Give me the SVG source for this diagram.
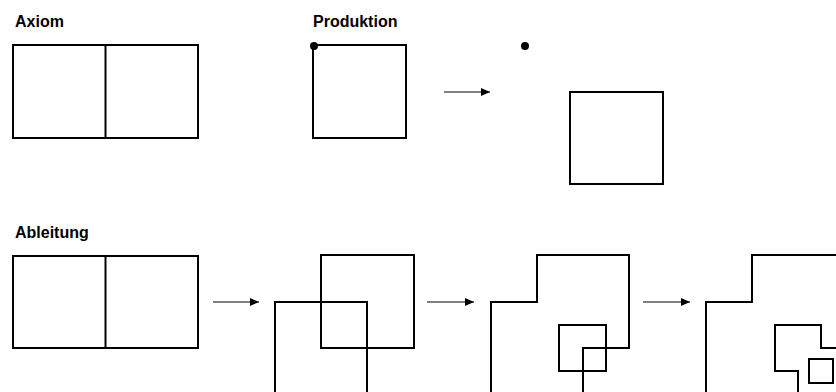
<svg xmlns="http://www.w3.org/2000/svg" width="836" height="392" viewBox="0 0 836 392">
  <style>
    .lbl { font-family: "Liberation Sans", Arial, sans-serif; font-weight: bold; font-size: 16px; fill: #000; }
    .shape { fill: none; stroke: #000; stroke-width: 2; stroke-linejoin: miter; }
    .conn { fill: none; stroke: #000; stroke-width: 1.2; }
    .dot { fill: #000; }
  </style>
  <defs>
    <marker id="ah" markerUnits="userSpaceOnUse" markerWidth="9" markerHeight="8" refX="9" refY="4" orient="auto">
      <path d="M0,0 L9,4 L0,8 Z" fill="#000"/>
    </marker>
  </defs>
  <rect width="836" height="392" fill="#fff"/>

  <g id="labels">
    <text class="lbl" x="15" y="27">Axiom</text>
    <text class="lbl" x="313" y="27">Produktion</text>
    <text class="lbl" x="15" y="238">Ableitung</text>
  </g>

  <g id="axiom">
    <rect class="shape" x="13" y="45" width="185" height="93"/>
    <line class="shape" x1="105.5" y1="45" x2="105.5" y2="138"/>
  </g>

  <g id="production-left">
    <rect class="shape" x="313" y="45" width="93" height="93"/>
    <circle class="dot" cx="314" cy="46" r="4"/>
  </g>

  <g id="production-right">
    <circle class="dot" cx="525" cy="46" r="4"/>
    <rect class="shape" x="570" y="92" width="93" height="92"/>
  </g>

  <g id="derivation-0">
    <rect class="shape" x="13" y="256" width="185" height="92"/>
    <line class="shape" x1="105.5" y1="256" x2="105.5" y2="348"/>
  </g>

  <g id="derivation-1">
    <rect class="shape" x="321" y="255" width="93" height="93"/>
    <rect class="shape" x="275" y="302" width="92" height="93"/>
  </g>

  <g id="derivation-2">
    <polyline class="shape" points="491,396 491,302 537,302 537,255 629,255 629,348 583,348 583,396"/>
    <rect class="shape" x="559" y="325" width="47" height="46"/>
  </g>

  <g id="derivation-3">
    <polyline class="shape" points="706,396 706,302 752,302 752,255 840,255"/>
    <polyline class="shape" points="798,396 798,371 775,371 775,325 821,325 821,348 840,348"/>
    <rect class="shape" x="809" y="359" width="24" height="24"/>
  </g>

  <g id="connectors">
    <line class="conn" x1="444" y1="92" x2="490" y2="92" marker-end="url(#ah)"/>
    <line class="conn" x1="213" y1="302" x2="259" y2="302" marker-end="url(#ah)"/>
    <line class="conn" x1="427" y1="302" x2="474" y2="302" marker-end="url(#ah)"/>
    <line class="conn" x1="643" y1="302" x2="690" y2="302" marker-end="url(#ah)"/>
  </g>
</svg>
